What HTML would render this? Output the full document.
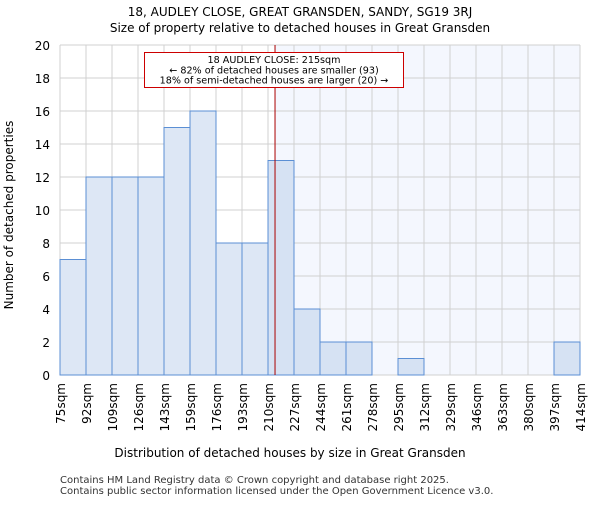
<!DOCTYPE html>
<html><head><meta charset="utf-8"><style>body{margin:0;background:#fff}svg text{font-family:"DejaVu Sans","Liberation Sans",sans-serif}</style></head>
<body>
<svg id="c" width="600" height="500" xmlns="http://www.w3.org/2000/svg">
<text x="300" y="16" text-anchor="middle" font-size="12">18, AUDLEY CLOSE, GREAT GRANSDEN, SANDY, SG19 3RJ</text>
<text x="300" y="32" text-anchor="middle" font-size="12">Size of property relative to detached houses in Great Gransden</text>
<g id="plot"></g>
<text x="290" y="457" text-anchor="middle" font-size="12">Distribution of detached houses by size in Great Gransden</text>
<text transform="translate(13,215) rotate(-90)" text-anchor="middle" font-size="12">Number of detached properties</text>
<text x="60" y="483" font-size="10" fill="#333">Contains HM Land Registry data © Crown copyright and database right 2025.</text>
<text x="60" y="494" font-size="10" fill="#333">Contains public sector information licensed under the Open Government Licence v3.0.</text>
</svg>
<script>
const binLabels=["75sqm","92sqm","109sqm","126sqm","143sqm","159sqm","176sqm","193sqm","210sqm","227sqm","244sqm","261sqm","278sqm","295sqm","312sqm","329sqm","346sqm","363sqm","380sqm","397sqm","414sqm"];
const counts=[7,12,12,12,15,16,8,8,13,4,2,2,0,1,0,0,0,0,0,2];
const yTicks=[0,2,4,6,8,10,12,14,16,18,20];
const propertyBin=8.27;
const NS="http://www.w3.org/2000/svg";
const L=60,R=580,T=45,B=375,yMax=20;
const bw=(R-L)/counts.length;
const xs=i=>L+i*bw, ys=v=>B-(v/yMax)*(B-T);
const g=document.getElementById('plot');
function mk(t,a,p){const e=document.createElementNS(NS,t);for(const k in a)e.setAttribute(k,a[k]);(p||g).appendChild(e);return e;}
const px=xs(propertyBin);
let e=mk('rect',{x:px,y:T,width:R-px,height:B-T,fill:'#f4f7fe'});


for(let i=0;i<=counts.length;i++){e=mk('line',{x1:xs(i),x2:xs(i),y1:T,y2:B,stroke:'#d0d0d0'});

}
yTicks.forEach(v=>{e=mk('line',{x1:L,x2:R,y1:ys(v),y2:ys(v),stroke:'#d0d0d0'});


e=mk('text',{x:L-10,y:ys(v)+5,'text-anchor':'end','font-size':12});e.textContent=v;

});
counts.forEach((c,i)=>{if(c<=0)return;e=mk('rect',{x:xs(i),y:ys(c),width:bw,height:B-ys(c),fill:i>=8?'#d6e2f3':'#dde7f5',stroke:'#5b8fd4','stroke-width':1});

});
binLabels.forEach((l,i)=>{e=mk('text',{transform:`translate(${xs(i)+5},383) rotate(-90)`,'text-anchor':'end','font-size':12});e.textContent=l;

});
e=mk('line',{x1:px,x2:px,y1:T,y2:B,stroke:'#a00','stroke-width':1});


e=mk('rect',{x:144.5,y:52.5,width:259,height:35,fill:'#fff',stroke:'#c00'});


["18 AUDLEY CLOSE: 215sqm","← 82% of detached houses are smaller (93)","18% of semi-detached houses are larger (20) →"].forEach((t,i)=>{e=mk('text',{x:274,y:63+i*10.3,'text-anchor':'middle','font-size':9.6});e.textContent=t;

});
</script>
</body></html>
